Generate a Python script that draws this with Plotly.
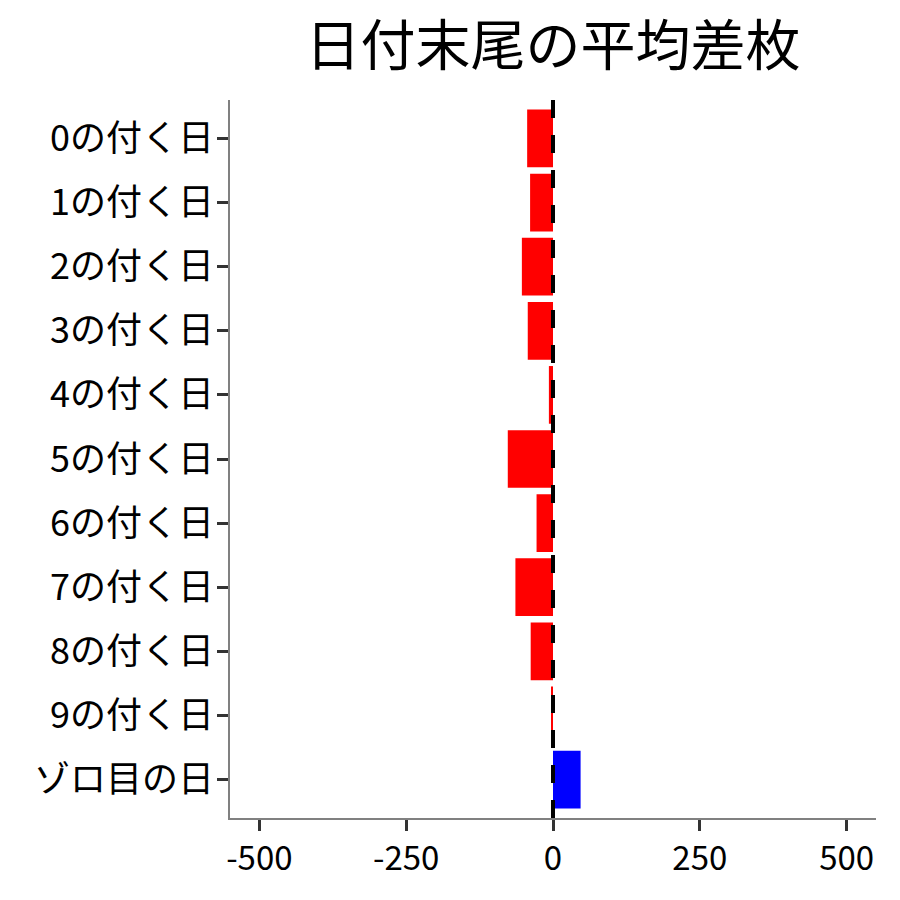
import plotly.graph_objects as go

categories = ["0の付く日", "1の付く日", "2の付く日", "3の付く日", "4の付く日",
              "5の付く日", "6の付く日", "7の付く日", "8の付く日", "9の付く日", "ゾロ目の日"]
values = [-44, -39, -53, -43, -7, -77, -28, -64, -38, -3, 47]
x_ticks = [-500, -250, 0, 250, 500]
x_tick_labels = ["-500", "-250", "0", "250", "500"]

colors = ["blue" if v > 0 else "red" for v in values]
FONT = "Noto Sans CJK JP"

fig = go.Figure()
fig.add_trace(go.Bar(
    y=categories, x=values, orientation="h",
    marker=dict(color=colors, line=dict(width=0)),
    width=0.9,
))

fig.add_shape(type="line", xref="x", yref="paper", x0=0, x1=0, y0=0, y1=1,
              line=dict(color="black", width=4, dash="18px,17px"), layer="above")

fig.update_layout(
    width=900, height=900,
    margin=dict(l=222, r=32, t=92, b=90, autoexpand=False),
    plot_bgcolor="white", paper_bgcolor="white",
    showlegend=False,
    font=dict(family=FONT, color="black"),
    title=dict(text="日付末尾の平均差枚", x=545 / 900, xanchor="center",
               y=1 - 38 / 900, yanchor="middle", font=dict(size=55, family=FONT, color="black")),
    xaxis=dict(range=[-550, 550], tickvals=x_ticks, ticktext=x_tick_labels, automargin=False,
               showgrid=False, zeroline=False, showline=True, linecolor="#808080", linewidth=1.5,
               ticks="outside", ticklen=11, tickwidth=3, tickcolor="#333333",
               tickfont=dict(size=33, family=FONT, color="black")),
    yaxis=dict(categoryorder="array", categoryarray=categories, automargin=False,
               range=[10.6, -0.6], autorange=False,
               showgrid=False, zeroline=False, showline=True, linecolor="#808080", linewidth=1.5,
               ticks="outside", ticklen=11, tickwidth=3, tickcolor="#333333",
               ticklabelstandoff=-4,
               tickfont=dict(size=36, family=FONT, color="black")),
    bargap=0.1,
)

fig.write_html("out.html")
